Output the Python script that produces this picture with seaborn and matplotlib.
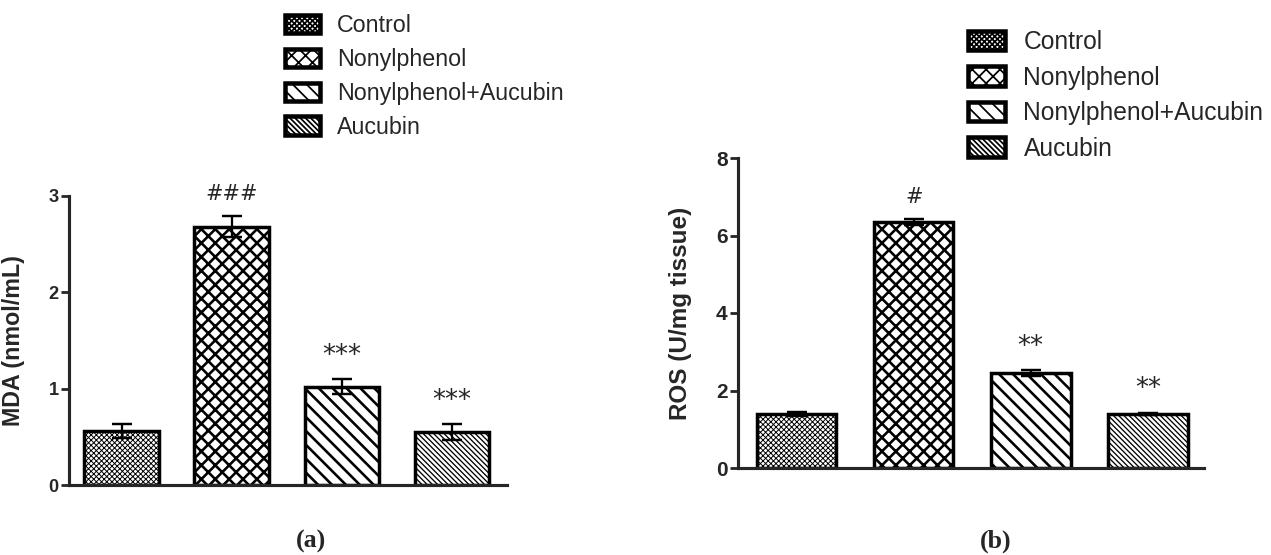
import numpy as np
import pandas as pd
import matplotlib
matplotlib.use("Agg")
import matplotlib.pyplot as plt
import seaborn as sns
from matplotlib.patches import Patch

# ---------------- data ----------------
groups = ["Control", "Nonylphenol", "Nonylphenol+Aucubin", "Aucubin"]
mda_mean = [0.56, 2.68, 1.02, 0.55]
mda_sem = [0.07, 0.11, 0.08, 0.08]
mda_marks = ["", "###", "***", "***"]
ros_mean = [1.40, 6.35, 2.45, 1.40]
ros_sem = [0.05, 0.07, 0.07, 0.03]
ros_marks = ["", "#", "**", "**"]
mda_ticks = [0, 1, 2, 3]
ros_ticks = [0, 2, 4, 6, 8]

# ---------------- style ----------------
sns.set_style("ticks")
plt.rcParams["font.family"] = ["Liberation Sans", "DejaVu Sans"]
plt.rcParams["hatch.color"] = "black"

DPI = 125
W, H = 1271, 555
fig = plt.figure(figsize=(W / DPI, H / DPI), dpi=DPI)

hatches = ["x" * 8, "x" * 3, "\\" * 3, "\\" * 8]
hatch_lw = [0.55, 1.5, 1.5, 0.75]


def set_hlw(p, lw):
    if hasattr(p, "set_hatch_linewidth"):
        p.set_hatch_linewidth(lw)


def px_axes(x0, y0, x1, y1):
    return fig.add_axes([x0 / W, 1 - y1 / H, (x1 - x0) / W, (y1 - y0) / H])


def panel(ax, means, sems, marks, ticks, ylabel, xlim, tick_fs, label_fs, labelx):
    df = pd.DataFrame({"group": groups, "value": means})
    sns.barplot(data=df, x="group", y="value", hue="group", order=groups,
                hue_order=groups, palette=["white"] * 4, saturation=1,
                edgecolor="black", linewidth=2.0, width=0.68,
                errorbar=None, legend=False, ax=ax)
    for p, h, hl in zip(ax.patches, hatches, hatch_lw):
        p.set_hatch(h)
        set_hlw(p, hl)
    xs = np.arange(len(groups))
    ax.errorbar(xs, means, yerr=sems, fmt="none", ecolor="black",
                elinewidth=1.3, capsize=6, capthick=1.4, zorder=5)
    for x, m, s, t in zip(xs, means, sems, marks):
        if t:
            ax.annotate(t, xy=(x, m + s), xytext=(0, 9.5),
                        textcoords="offset points", ha="center",
                        va="baseline", fontsize=15 if "*" in t else 12,
                        family="DejaVu Sans", annotation_clip=False)
    ax.set_ylim(ticks[0], ticks[-1])
    ax.set_yticks(ticks)
    ax.set_xlim(*xlim)
    ax.set_xlabel("")
    ax.set_ylabel(ylabel, fontsize=label_fs, fontweight="bold")
    ax.yaxis.set_label_coords(labelx, 0.5)
    ax.tick_params(axis="x", length=0, labelbottom=False)
    ax.tick_params(axis="y", length=4.5, width=1.6, pad=1.5, labelsize=tick_fs)
    for t in ax.get_yticklabels():
        t.set_fontweight("bold")
    sns.despine(ax=ax)
    for s in ("left", "bottom"):
        ax.spines[s].set_linewidth(1.8)


axL = px_axes(69, 196, 507, 485)
panel(axL, mda_mean, mda_sem, mda_marks, mda_ticks, "MDA (nmol/mL)",
      (-0.48, 3.5), 10.5, 13.4, -0.100)

axR = px_axes(738, 158, 1204, 468)
panel(axR, ros_mean, ros_sem, ros_marks, ros_ticks, "ROS (U/mg tissue)",
      (-0.50, 3.48), 12, 14, -0.099)


def legend_at(x, y, fs):
    handles = []
    for h, hl in zip(hatches, hatch_lw):
        p = Patch(facecolor="white", edgecolor="black", hatch=h, linewidth=2.6)
        set_hlw(p, hl)
        handles.append(p)
    fig.legend(handles, groups, loc="upper left",
               bbox_to_anchor=(x / W, 1 - y / H), frameon=False,
               fontsize=fs, borderpad=0, borderaxespad=0,
               handlelength=1.5, handleheight=0.85, handletextpad=0.75,
               labelspacing=0.47)


legend_at(285, 14, 13.4)
legend_at(968, 30, 14.2)

for x, lab in ((311, "(a)"), (996, "(b)")):
    fig.text(x / W, 1 - 541 / H, lab, ha="center", va="center",
             family="Liberation Serif", fontweight="bold", fontsize=15)

fig.savefig("out.png", dpi=DPI)
